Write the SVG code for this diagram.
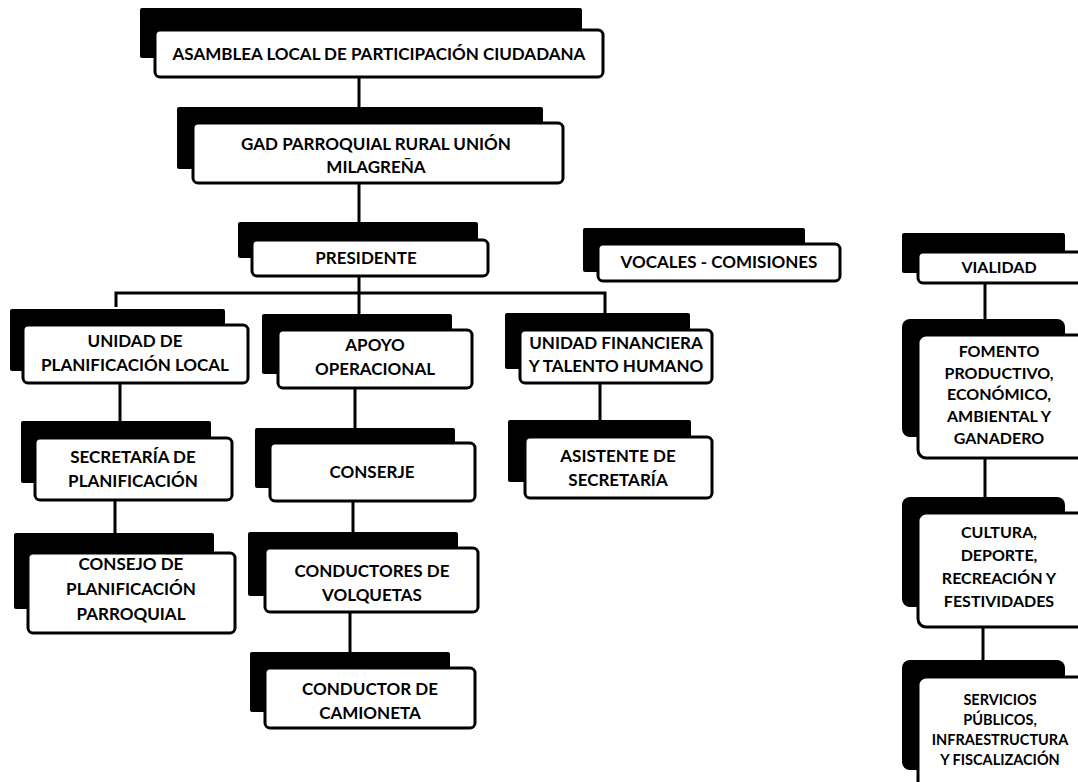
<svg xmlns="http://www.w3.org/2000/svg" width="1078" height="782" viewBox="0 0 1078 782">
<style>
.sh{fill:#000;}
.bx{fill:#fff;stroke:#000;stroke-width:3;}
.t{font-family:Lato,"Open Sans","Liberation Sans",sans-serif;font-weight:700;font-size:17px;fill:#000;text-anchor:middle;}
.m{font-size:16px;}
.s{font-size:14.5px;}
.c{fill:none;stroke:#000;stroke-width:3;}
</style>
<rect width="1078" height="782" fill="#fff"/>
<g id="connectors">
<path class="c" d="M359,77V108"/>
<path class="c" d="M359,183V222"/>
<path class="c" d="M359,276V314"/>
<path class="c" d="M116,307V293H605V313"/>
<path class="c" d="M120,383V421"/>
<path class="c" d="M115,500V533"/>
<path class="c" d="M355,388V428"/>
<path class="c" d="M353,501V532"/>
<path class="c" d="M350,612V652"/>
<path class="c" d="M600,383V420"/>
<path class="c" d="M985,283V320"/>
<path class="c" d="M985,458V497"/>
<path class="c" d="M983,627V660"/>
</g>
<g id="n-asamblea">
<rect class="sh" x="140" y="8" width="442" height="50" rx="2"/>
<rect class="bx" x="155" y="30" width="448" height="47" rx="5"/>
<text class="t" x="379" y="60">ASAMBLEA LOCAL DE PARTICIPACIÓN CIUDADANA</text>
</g>
<g id="n-gad">
<rect class="sh" x="177" y="107" width="366" height="62" rx="2"/>
<rect class="bx" x="193" y="123" width="370" height="60" rx="5"/>
<text class="t" x="376" y="150">GAD PARROQUIAL RURAL UNIÓN</text>
<text class="t" x="376" y="173">MILAGREÑA</text>
</g>
<g id="n-presidente">
<rect class="sh" x="238" y="222" width="240" height="36" rx="2"/>
<rect class="bx" x="252" y="240" width="236" height="36" rx="5"/>
<text class="t" x="366" y="264">PRESIDENTE</text>
</g>
<g id="n-vocales">
<rect class="sh" x="583" y="228" width="222" height="44" rx="2"/>
<rect class="bx" x="598" y="244" width="242" height="37" rx="5"/>
<text class="t" x="719" y="268">VOCALES - COMISIONES</text>
</g>
<g id="n-vialidad">
<rect class="sh" x="902" y="233" width="163" height="40" rx="2"/>
<rect class="bx" x="918" y="252" width="175" height="31" rx="5"/>
<text class="t m" x="999" y="273">VIALIDAD</text>
</g>
<g id="n-unidad-plan">
<rect class="sh" x="10" y="309" width="215" height="62" rx="2"/>
<rect class="bx" x="23" y="325" width="225" height="58" rx="5"/>
<text class="t" x="135" y="347">UNIDAD DE</text>
<text class="t" x="135" y="371">PLANIFICACIÓN LOCAL</text>
</g>
<g id="n-apoyo">
<rect class="sh" x="262" y="314" width="190" height="60" rx="2"/>
<rect class="bx" x="278" y="330" width="194" height="58" rx="5"/>
<text class="t" x="375" y="351">APOYO</text>
<text class="t" x="375" y="375">OPERACIONAL</text>
</g>
<g id="n-unidad-fin">
<rect class="sh" x="505" y="313" width="185" height="56" rx="2"/>
<rect class="bx" x="520" y="330" width="192" height="53" rx="5"/>
<text class="t" x="616" y="349">UNIDAD FINANCIERA</text>
<text class="t" x="616" y="372">Y TALENTO HUMANO</text>
</g>
<g id="n-secretaria">
<rect class="sh" x="21" y="421" width="190" height="62" rx="2"/>
<rect class="bx" x="35" y="438" width="197" height="62" rx="5"/>
<text class="t" x="133" y="463">SECRETARÍA DE</text>
<text class="t" x="133" y="487">PLANIFICACIÓN</text>
</g>
<g id="n-consejo">
<rect class="sh" x="14" y="533" width="200" height="76" rx="2"/>
<rect class="bx" x="28" y="553" width="207" height="80" rx="5"/>
<text class="t" x="131" y="570">CONSEJO DE</text>
<text class="t" x="131" y="595">PLANIFICACIÓN</text>
<text class="t" x="131" y="620">PARROQUIAL</text>
</g>
<g id="n-conserje">
<rect class="sh" x="255" y="428" width="200" height="60" rx="2"/>
<rect class="bx" x="270" y="443" width="205" height="58" rx="5"/>
<text class="t" x="372" y="478">CONSERJE</text>
</g>
<g id="n-conductores">
<rect class="sh" x="248" y="532" width="210" height="64" rx="2"/>
<rect class="bx" x="265" y="548" width="213" height="64" rx="5"/>
<text class="t" x="372" y="577">CONDUCTORES DE</text>
<text class="t" x="372" y="601">VOLQUETAS</text>
</g>
<g id="n-camioneta">
<rect class="sh" x="250" y="652" width="200" height="60" rx="2"/>
<rect class="bx" x="265" y="668" width="210" height="60" rx="5"/>
<text class="t" x="370" y="695">CONDUCTOR DE</text>
<text class="t" x="370" y="719">CAMIONETA</text>
</g>
<g id="n-asistente">
<rect class="sh" x="508" y="420" width="183" height="62" rx="2"/>
<rect class="bx" x="525" y="437" width="187" height="61" rx="5"/>
<text class="t" x="618" y="462">ASISTENTE DE</text>
<text class="t" x="618" y="486">SECRETARÍA</text>
</g>
<g id="n-fomento">
<rect class="sh" x="902" y="319" width="163" height="118" rx="8"/>
<rect class="bx" x="918" y="335" width="175" height="123" rx="8"/>
<text class="t m" x="999" y="357">FOMENTO</text>
<text class="t m" x="999" y="379">PRODUCTIVO,</text>
<text class="t m" x="999" y="400">ECONÓMICO,</text>
<text class="t m" x="999" y="422">AMBIENTAL Y</text>
<text class="t m" x="999" y="444">GANADERO</text>
</g>
<g id="n-cultura">
<rect class="sh" x="902" y="497" width="163" height="110" rx="8"/>
<rect class="bx" x="918" y="513" width="175" height="114" rx="8"/>
<text class="t m" x="999" y="538">CULTURA,</text>
<text class="t m" x="999" y="561">DEPORTE,</text>
<text class="t m" x="999" y="584">RECREACIÓN Y</text>
<text class="t m" x="999" y="607">FESTIVIDADES</text>
</g>
<g id="n-servicios">
<rect class="sh" x="902" y="660" width="163" height="110" rx="8"/>
<rect class="bx" x="918" y="677" width="175" height="112" rx="8"/>
<text class="t s" x="1000" y="705">SERVICIOS</text>
<text class="t s" x="1000" y="725">PÚBLICOS,</text>
<text class="t s" x="1000" y="745">INFRAESTRUCTURA</text>
<text class="t s" x="1000" y="765">Y FISCALIZACIÓN</text>
</g>
</svg>
